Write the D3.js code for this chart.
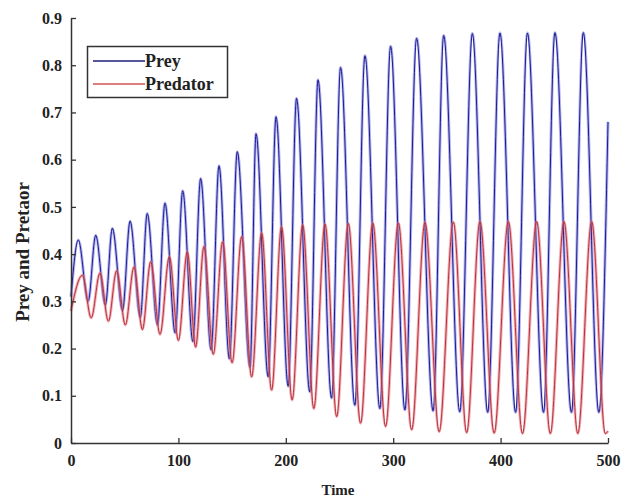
<!DOCTYPE html>
<html>
<head>
<meta charset="utf-8">
<script src="https://cdn.jsdelivr.net/npm/d3@7"></script>
<style>
  body { margin: 0; background: #fff; }
  text { font-family: "Liberation Serif", "Times New Roman", serif; font-weight: bold; fill: #222; }
</style>
</head>
<body>
<svg class="chart"></svg>
<script>
// peaks and troughs (time, value)
var preyTime = [0, 6.8, 16, 23, 32, 38.5, 48, 55, 64.5, 71, 80.5, 87.5, 97, 104, 113.5, 120.7,
  130.5, 137.8, 147.5, 154.8, 166.7, 172.3, 183.6, 190.9, 202.2, 210, 222.3, 230, 242.6, 251,
  264.3, 273.7, 287.6, 297.6, 310.9, 321.8, 337.2, 347, 362, 373.7, 388, 399.4, 414, 425, 440,
  450.6, 466, 477, 491.5, 500];
var preyValue = [0.31, 0.43, 0.30, 0.44, 0.292, 0.455, 0.28, 0.47, 0.266, 0.486, 0.25, 0.508,
  0.233, 0.534, 0.215, 0.56, 0.197, 0.587, 0.178, 0.617, 0.16, 0.655, 0.14, 0.691, 0.12, 0.73,
  0.108, 0.769, 0.095, 0.795, 0.08, 0.82, 0.073, 0.84, 0.07, 0.857, 0.068, 0.863, 0.066, 0.867,
  0.065, 0.868, 0.065, 0.868, 0.065, 0.869, 0.065, 0.869, 0.065, 0.68];

var predTime = [0, 10.6, 18.8, 27, 34.8, 42.5, 50.6, 58.7, 66.5, 74.2, 82.9, 91.6, 100, 108.3,
  116, 123.8, 132.5, 141.2, 150, 158.9, 168.2, 177.5, 186.8, 196, 205.9, 215.7, 226.1, 236.5,
  247.4, 258.2, 269.6, 281, 292.9, 304.8, 317.2, 329.6, 342.8, 356, 368.4, 380.8, 394, 407.2,
  420.4, 433.6, 446.3, 459, 471.9, 484.8, 497.5, 500];
var predValue = [0.28, 0.355, 0.265, 0.36, 0.258, 0.365, 0.25, 0.373, 0.24, 0.384, 0.23, 0.395,
  0.217, 0.405, 0.203, 0.416, 0.188, 0.426, 0.17, 0.437, 0.14, 0.445, 0.112, 0.458, 0.091, 0.462,
  0.073, 0.464, 0.056, 0.465, 0.042, 0.466, 0.035, 0.466, 0.028, 0.467, 0.024, 0.468, 0.022,
  0.469, 0.021, 0.469, 0.02, 0.469, 0.02, 0.469, 0.02, 0.469, 0.02, 0.025];

var xTicks = [0, 100, 200, 300, 400, 500];
var yTicks = [0, 0.1, 0.2, 0.3, 0.4, 0.5, 0.6, 0.7, 0.8, 0.9];
var seriesNames = ["Prey", "Predator"];

var serif = "'Liberation Serif', 'Times New Roman', serif";

var width = 640,
    height = 502,
    margin = {top: 18, right: 32, bottom: 59, left: 71};

var svg = d3.select(".chart")
    .attr("width", width)
    .attr("height", height);

var x = d3.scaleLinear()
    .domain([0, 500])
    .range([margin.left, width - margin.right]);

var y = d3.scaleLinear()
    .domain([0, 0.9])
    .range([height - margin.bottom, margin.top]);

var line = d3.line()
    .x(function(d) { return x(d[0]); })
    .y(function(d) { return y(d[1]); })
    .curve(d3.curveMonotoneX);

// lines: soft wide stroke under a thin dark one
var series = [
  {name: seriesNames[0], pts: d3.zip(preyTime, preyValue), halo: "rgba(130,130,235,0.6)", core: "#1c1c8c"},
  {name: seriesNames[1], pts: d3.zip(predTime, predValue), halo: "rgba(240,120,130,0.6)", core: "#b03440"}
];

series.forEach(function(s) {
  svg.append("path")
      .attr("d", line(s.pts))
      .attr("fill", "none")
      .attr("stroke", s.halo)
      .attr("stroke-width", 3);
  svg.append("path")
      .attr("d", line(s.pts))
      .attr("fill", "none")
      .attr("stroke", s.core)
      .attr("stroke-width", 1);
});

// axes, ticks point inward
var xAxis = svg.append("g")
    .attr("transform", "translate(0," + y(0) + ")")
    .call(d3.axisBottom(x).tickValues(xTicks).tickSizeInner(-5).tickSizeOuter(0).tickPadding(12));

var yAxis = svg.append("g")
    .attr("transform", "translate(" + x(0) + ",0)")
    .call(d3.axisLeft(y).tickValues(yTicks).tickSizeInner(-5).tickSizeOuter(0).tickPadding(9)
      .tickFormat(function(d) { return d === 0 ? "0" : d.toFixed(1); }));

[xAxis, yAxis].forEach(function(g) {
  g.attr("font-family", serif).attr("font-size", 16);
  g.select(".domain").attr("stroke", "#333").attr("stroke-width", 1.5);
  g.selectAll(".tick line").attr("stroke", "#333").attr("stroke-width", 1.3);
  g.selectAll(".tick text").attr("fill", "#222");
});

// axis titles
svg.append("text")
    .attr("x", 338)
    .attr("y", 495)
    .attr("text-anchor", "middle")
    .attr("font-size", 15)
    .text("Time");

svg.append("text")
    .attr("transform", "translate(29,252) rotate(-90)")
    .attr("text-anchor", "middle")
    .attr("font-size", 19)
    .text("Prey and Pretaor");

// legend
var legend = svg.append("g");

legend.append("rect")
    .attr("x", 87.5)
    .attr("y", 46.5)
    .attr("width", 140)
    .attr("height", 51)
    .attr("fill", "#fff")
    .attr("stroke", "#333")
    .attr("stroke-width", 1.5);

var legendColor = ["#1e1e78", "#d45050"];

seriesNames.forEach(function(name, i) {
  legend.append("line")
      .attr("x1", 93)
      .attr("x2", 145)
      .attr("y1", 61 + i * 23)
      .attr("y2", 61 + i * 23)
      .attr("stroke", legendColor[i])
      .attr("stroke-width", 1.3);
  legend.append("text")
      .attr("x", 145)
      .attr("y", 67 + i * 23)
      .attr("font-size", 18)
      .text(name);
});
</script>
</body>
</html>
